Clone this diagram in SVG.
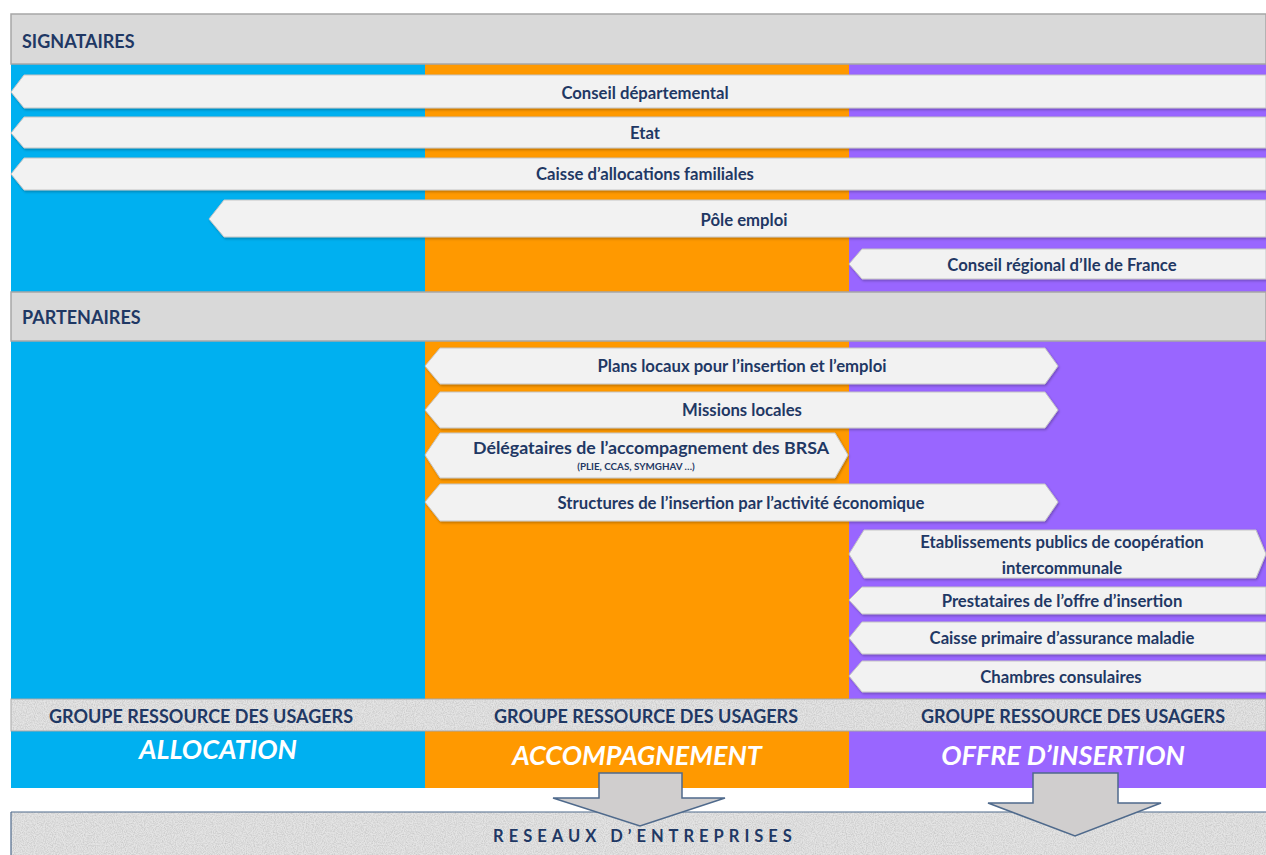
<svg xmlns="http://www.w3.org/2000/svg" width="1266" height="855" viewBox="0 0 1266 855">
<defs>
<filter id="grain" x="0" y="0" width="100%" height="100%">
<feTurbulence type="fractalNoise" baseFrequency="0.9" numOctaves="2" seed="3" result="n"/>
<feColorMatrix in="n" type="matrix" values="0 0 0 0 0.5  0 0 0 0 0.5  0 0 0 0 0.5  1.6 0 0 0 -0.55" result="g"/>
<feComposite in="g" in2="SourceGraphic" operator="in"/>
</filter>
<filter id="sh" x="-2%" y="-20%" width="104%" height="150%">
<feDropShadow dx="1" dy="1.5" stdDeviation="1" flood-color="#000" flood-opacity="0.25"/>
</filter>
</defs>
<style>
.hdr{fill:#d9d9d9;stroke:#a6a6a6;stroke-width:1.5}
.arr{fill:#f2f2f2;stroke:#c4c4c4;stroke-width:1;filter:url(#sh)}
.t{font-family:Lato,"Liberation Sans",sans-serif;font-weight:bold;fill:#1f3864;text-anchor:middle;dominant-baseline:central}
.h{font-family:Lato,"Liberation Sans",sans-serif;font-weight:bold;fill:#1f3864;font-size:18px;dominant-baseline:central}
.big{font-family:Lato,"Liberation Sans",sans-serif;font-weight:bold;font-style:italic;fill:#ffffff;text-anchor:middle;dominant-baseline:central;font-size:27px}
.dn{fill:#d0cece;stroke:#4f6a8c;stroke-width:1.5}
.m{font-size:16.7px}
.g{font-size:18px}
</style>
<rect x="0" y="0" width="1266" height="855" fill="#ffffff"/>

<g id="columns">
<rect x="11" y="64" width="414" height="724" fill="#00b0f0"/>
<rect x="425" y="64" width="424" height="724" fill="#ff9900"/>
<rect x="849" y="64" width="417" height="724" fill="#9966ff"/>
</g>

<g id="signataires">
<rect class="hdr" x="11" y="14" width="1255" height="50"/>
<text class="h" x="22" y="41">SIGNATAIRES</text>
</g>

<g id="conseil-departemental">
<polygon class="arr" points="11,92 24,75 1266,75 1266,108 24,108"/>
<text class="t m" x="645" y="93">Conseil départemental</text>
</g>
<g id="etat">
<polygon class="arr" points="11,133 24,117 1266,117 1266,148 24,148"/>
<text class="t m" x="645" y="133">Etat</text>
</g>
<g id="caf">
<polygon class="arr" points="11,174 24,158 1266,158 1266,190 24,190"/>
<text class="t m" x="645" y="174">Caisse d’allocations familiales</text>
</g>
<g id="pole-emploi">
<polygon class="arr" points="209,219 224,200 1266,200 1266,237 224,237"/>
<text class="t m" x="744" y="220">Pôle emploi</text>
</g>
<g id="conseil-regional">
<polygon class="arr" points="849,264 862,249 1266,249 1266,279 862,279"/>
<text class="t m" x="1062" y="265">Conseil régional d’Ile de France</text>
</g>

<g id="partenaires">
<rect class="hdr" x="11" y="292" width="1255" height="49"/>
<text class="h" x="22" y="317">PARTENAIRES</text>
</g>

<g id="plie">
<polygon class="arr" points="425,366 440,348 1045,348 1058,366 1045,384 440,384"/>
<text class="t m" x="742" y="366">Plans locaux pour l’insertion et l’emploi</text>
</g>
<g id="missions-locales">
<polygon class="arr" points="425,410 440,392 1045,392 1058,410 1045,428 440,428"/>
<text class="t m" x="742" y="410">Missions locales</text>
</g>
<g id="delegataires">
<polygon class="arr" points="425,455 440,433 835,433 848,455 835,478 440,478"/>
<text class="t" x="651" y="447" font-size="17.8">Délégataires de l’accompagnement des BRSA</text>
<text class="t" x="636" y="466" font-size="9.8">(PLIE, CCAS, SYMGHAV …)</text>
</g>
<g id="siae">
<polygon class="arr" points="425,502 440,484 1045,484 1058,502 1045,521 440,521"/>
<text class="t m" x="741" y="503">Structures de l’insertion par l’activité économique</text>
</g>
<g id="epci">
<polygon class="arr" points="849,554 864,530 1256,530 1266,554 1256,578 864,578"/>
<text class="t m" x="1062" y="542">Etablissements publics de coopération</text>
<text class="t m" x="1062" y="568">intercommunale</text>
</g>
<g id="prestataires">
<polygon class="arr" points="849,600 862,587 1266,587 1266,614 862,614"/>
<text class="t m" x="1062" y="601">Prestataires de l’offre d’insertion</text>
</g>
<g id="cpam">
<polygon class="arr" points="849,638 862,622 1266,622 1266,654 862,654"/>
<text class="t m" x="1062" y="638">Caisse primaire d’assurance maladie</text>
</g>
<g id="chambres">
<polygon class="arr" points="849,676 862,661 1266,661 1266,692 862,692"/>
<text class="t m" x="1061" y="677">Chambres consulaires</text>
</g>

<g id="groupe-ressource">
<rect x="11" y="699" width="1255" height="32" fill="#e4e4e4" stroke="#a6a6a6" stroke-width="1"/>
<rect x="11" y="699" width="1255" height="32" fill="#ffffff" filter="url(#grain)" opacity="0.8"/>
<text class="t g" x="201" y="716">GROUPE RESSOURCE DES USAGERS</text>
<text class="t g" x="646" y="716">GROUPE RESSOURCE DES USAGERS</text>
<text class="t g" x="1073" y="716">GROUPE RESSOURCE DES USAGERS</text>
</g>

<g id="allocation"><text class="big" x="218" y="748">ALLOCATION</text></g>
<g id="accompagnement"><text class="big" x="637" y="754">ACCOMPAGNEMENT</text></g>
<g id="offre"><text class="big" x="1063" y="754">OFFRE D’INSERTION</text></g>

<g id="reseaux">
<rect x="11" y="812" width="1255" height="43" fill="#e4e4e4"/>
<rect x="11" y="812" width="1255" height="43" fill="#ffffff" filter="url(#grain)" opacity="0.8"/>
<line x1="11" y1="812" x2="1266" y2="812" stroke="#4f6a8c" stroke-width="1.2"/>
<line x1="11" y1="812" x2="11" y2="855" stroke="#4f6a8c" stroke-width="1.2"/>
<text class="t" x="645" y="836" font-size="16.5" letter-spacing="5">RESEAUX D’ENTREPRISES</text>
</g>

<g id="connectors">
<polygon class="dn" points="599,773 682,773 682,798 725,798 640,826 553,798 599,798"/>
<polygon class="dn" points="1033,773 1118,773 1118,803 1161,803 1075,836 988,803 1033,803"/>
</g>
</svg>
